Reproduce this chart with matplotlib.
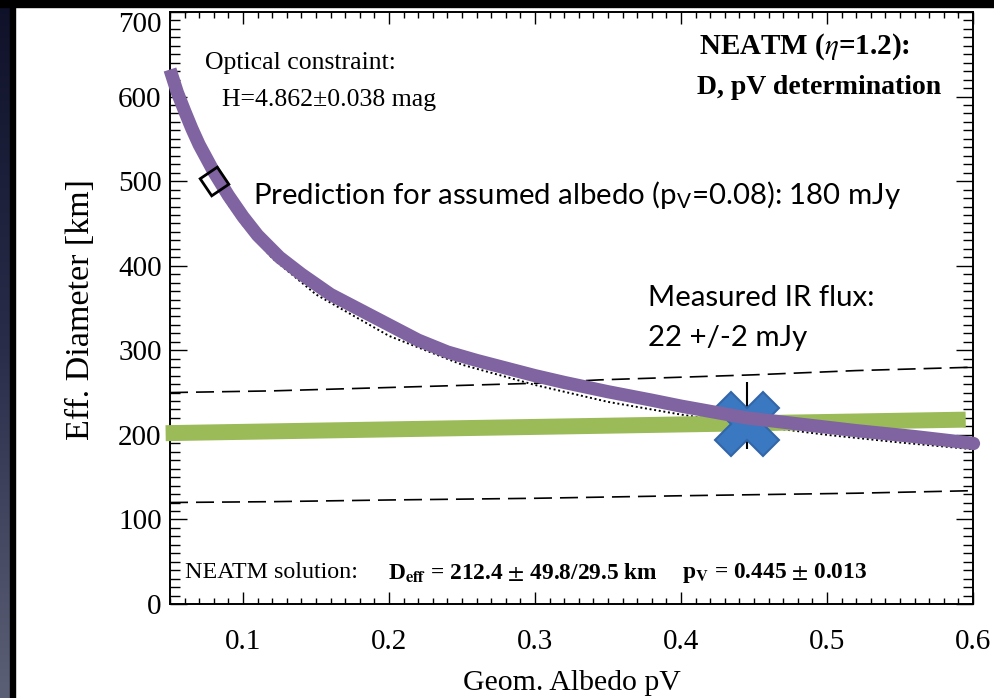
import numpy as np
import matplotlib
matplotlib.use("Agg")
import matplotlib.pyplot as plt
from matplotlib.patches import Rectangle
from matplotlib.ticker import MultipleLocator
from matplotlib.colors import LinearSegmentedColormap

plt.rcParams['mathtext.rm'] = 'Lato'
plt.rcParams['mathtext.it'] = 'Lato:italic'
plt.rcParams['mathtext.bf'] = 'Lato:bold'

SERIF = 'Liberation Serif'
SANS = 'Lato'

# Hand-drawn diameter/albedo relation (thick purple curve)
curve_pv = [0.05, 0.055, 0.06, 0.065, 0.07, 0.075, 0.08, 0.09, 0.10, 0.11,
            0.125, 0.14, 0.16, 0.18, 0.20, 0.22, 0.24, 0.26, 0.28, 0.30,
            0.32, 0.35, 0.38, 0.40, 0.445, 0.48, 0.52, 0.56, 0.60]
curve_d = [632, 605, 583, 562, 543, 527, 511, 483, 458, 436,
           410, 390, 366, 348, 330, 312, 298, 288, 279, 270,
           262, 251, 241, 234, 220, 213, 205, 198, 190]

# Optical constraint (dotted)
optical_pv = [0.05, 0.06, 0.07, 0.08, 0.09, 0.10, 0.12, 0.15, 0.20, 0.25, 0.30,
              0.35, 0.40, 0.445, 0.50, 0.55, 0.60]
optical_d = [633, 578, 535, 501, 472, 448, 409, 366, 317, 283, 259,
             239, 224, 212, 200, 191, 183]

# Thermal flux envelope (dashed)
upper_pv = [0.05, 0.12, 0.20, 0.30, 0.344, 0.45, 0.52, 0.60]
upper_d = [250, 252, 256, 261, 265, 271, 276, 280]
lower_pv = [0.05, 0.12, 0.20, 0.30, 0.40, 0.52, 0.60]
lower_d = [120, 121, 123, 125, 128, 131, 134]

# Measured IR flux line (green)
flux_pv = [0.047, 0.595]
flux_d = [202, 218]

# NEATM solution
sol_pv = 0.445
sol_d = 212.4
sol_err_hi = 49.8
sol_err_lo = 29.5

# Assumed-albedo prediction
pred_pv = 0.08
pred_d = 500

x_ticks = [0.1, 0.2, 0.3, 0.4, 0.5, 0.6]
y_ticks = [0, 100, 200, 300, 400, 500, 600, 700]

W, H = 994, 698
fig = plt.figure(figsize=(W / 100, H / 100), dpi=100)
fig.patch.set_facecolor('white')

# slide-style frame on the left and top edges
bg = fig.add_axes([0, 0, 10 / W, 1])
grad = np.linspace(0, 1, 256).reshape(-1, 1)
cm = LinearSegmentedColormap.from_list('edge', ['#0e1128', '#2a2d4a', '#5c6076'])
bg.imshow(grad, aspect='auto', cmap=cm, extent=[0, 1, 0, 1], origin='upper')
bg.set_axis_off()
fig.patches.append(Rectangle((10 / W, 0), 5 / W, 1, transform=fig.transFigure,
                             color='black', zorder=5))
fig.patches.append(Rectangle((0, 1 - 7 / H), 1, 7 / H, transform=fig.transFigure,
                             color='black', zorder=5))

L, R, T, B = 170, 973, 12, 604
ax = fig.add_axes([L / W, 1 - B / H, (R - L) / W, (B - T) / H])
ax.set_xlim(0.05, 0.6)
ax.set_ylim(0, 700)

ax.plot(upper_pv, upper_d, color='black', lw=1.2, ls=(0, (10.8, 4.8)), zorder=2)
ax.plot(lower_pv, lower_d, color='black', lw=1.2, ls=(0, (10.8, 4.8)), zorder=2)
ax.plot(optical_pv, optical_d, color='black', lw=1.4, ls=(0, (1, 1.4)), zorder=2)

ax.plot(flux_pv, flux_d, color='#9BBB59', lw=11.5, solid_capstyle='butt',
        zorder=3, clip_on=False)

ax.vlines(sol_pv, sol_d - sol_err_lo, sol_d + sol_err_hi, color='black',
          lw=1.5, zorder=4)
ax.plot([sol_pv], [sol_d], marker='X', ms=46, mfc='#3A78C2', mec='#3366A8',
        mew=1.5, ls='none', zorder=5)

ax.plot(curve_pv, curve_d, color='#8064A2', lw=9.5, solid_capstyle='butt',
        solid_joinstyle='round', zorder=6, clip_on=False)
ax.plot([curve_pv[-1]], [curve_d[-1]], marker='o', ms=9.5, mfc='#8064A2',
        mec='none', ls='none', zorder=6, clip_on=False)

ax.plot([pred_pv], [pred_d], marker=(4, 0, -11), ms=21, mfc='none', mec='black',
        mew=2, ls='none', zorder=7)

# axes styling
ax.set_xticks(x_ticks)
ax.set_xticklabels([f'{v:.1f}' for v in x_ticks])
ax.set_yticks(y_ticks)
ax.set_yticklabels([str(v) for v in y_ticks])
ax.xaxis.set_minor_locator(MultipleLocator(0.01))
ax.yaxis.set_minor_locator(MultipleLocator(10))
for s in ax.spines.values():
    s.set_linewidth(1.4)
ax.tick_params(axis='x', which='major', direction='in', top=True, length=8.6,
               width=1.0, pad=18, labelsize=21)
ax.tick_params(axis='x', which='minor', direction='in', top=True, length=4.3,
               width=1.0)
ax.tick_params(axis='y', which='major', direction='in', right=True, length=12.5,
               width=1.0, pad=6, labelsize=21)
ax.tick_params(axis='y', which='minor', direction='in', right=True, length=7,
               width=1.0)
for lab in ax.get_xticklabels() + ax.get_yticklabels():
    lab.set_family(SERIF)
ax.get_yticklabels()[-1].set_verticalalignment('top')

ax.set_xlabel('Geom. Albedo pV', family=SERIF, fontsize=21.5)
ax.xaxis.set_label_coords(0.5, -0.112)
ax.set_ylabel('Eff. Diameter [km]', family=SERIF, fontsize=24.5)
ax.yaxis.set_label_coords(-0.092, 0.497)


def fx(px):
    return (px - L) / (R - L)


def fy(py):
    return (B - py) / (B - T)


tr = ax.transAxes
ax.text(fx(205), fy(63), 'Optical constraint:', transform=tr, family=SERIF,
        fontsize=18.5, va='center', ha='left')
ax.text(fx(222), fy(100), 'H=4.862\u00b10.038 mag', transform=tr, family=SERIF,
        fontsize=18.5, va='center', ha='left')

ax.text(fx(699), fy(47), r'NEATM ($\eta$=1.2):', transform=tr, family=SERIF,
        fontweight='bold', fontsize=21, va='center', ha='left',
        math_fontfamily='stix')
ax.text(fx(697), fy(87), 'D, pV determination', transform=tr, family=SERIF,
        fontweight='bold', fontsize=20, va='center', ha='left')

ax.text(fx(253), fy(195), r'Prediction for assumed albedo (p$_\mathrm{V}$=0.08): 180 mJy',
        transform=tr, family=SANS, fontsize=21.2, va='center', ha='left',
        math_fontfamily='custom')
ax.text(fx(648), fy(298), 'Measured IR flux:', transform=tr, family=SANS,
        fontsize=21.2, va='center', ha='left')
ax.text(fx(648), fy(338), '22 +/-2 mJy', transform=tr, family=SANS,
        fontsize=21.2, va='center', ha='left')

ax.text(fx(185), fy(573), 'NEATM solution:', transform=tr, family=SERIF,
        fontsize=17.3, va='center', ha='left')
ax.text(fx(388), fy(573), r'D$_\mathbf{eff}$ = 212.4 $\pm$ 49.8/29.5 km', transform=tr,
        family=SERIF, fontweight='bold', fontsize=16.8, va='center', ha='left',
        math_fontfamily='stix')
ax.text(fx(682), fy(573), r'p$_\mathbf{V}$ = 0.445 $\pm$ 0.013', transform=tr,
        family=SERIF, fontweight='bold', fontsize=16.8, va='center', ha='left',
        math_fontfamily='stix')

fig.savefig('out.png', dpi=100)
